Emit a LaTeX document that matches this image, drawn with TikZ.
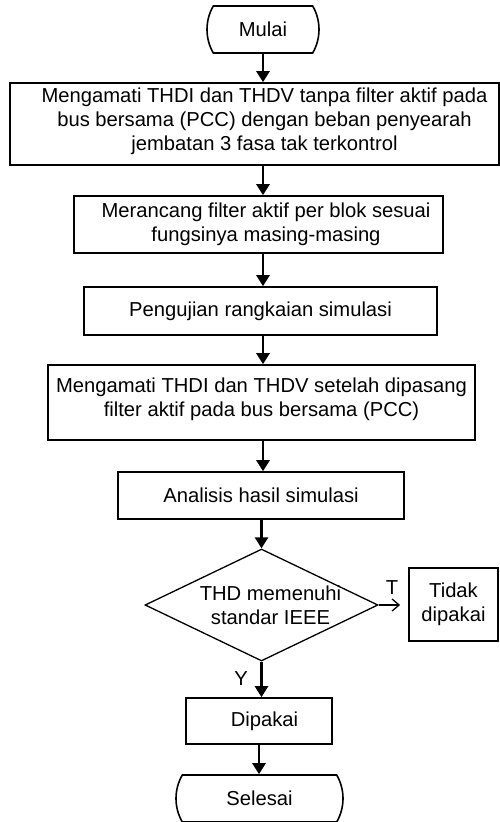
\documentclass[tikz,border=0pt]{standalone}
\usepackage{fontspec}
\setmainfont{Liberation Sans}
\usetikzlibrary{shapes.geometric,shapes.misc,arrows.meta}

% zero-width strut that pushes the text of a box up
\newcommand{\lowpad}[1]{\rule[-#1]{0pt}{#1}}
% pushes one line of text to the right
\newcommand{\rpad}[1]{\hspace*{#1}}

\tikzset{
  box/.style = {draw, line width=1.6pt, align=center, inner sep=0pt},
  term/.style = {draw, line width=1.6pt, rounded rectangle,
                 rounded rectangle arc length=60, inner sep=0pt},
  decide/.style = {draw, line width=1.3pt, diamond, aspect=2.08,
                   inner sep=-6pt, align=center},
  arr/.style = {line width=2.6pt, -{Triangle[length=11pt,width=13pt]}},
  barb/.style = {line width=1.3pt, -{Straight Barb[length=7pt,width=12pt]}},
}

\begin{document}
\begin{tikzpicture}[x=1pt, y=-1pt, font=\fontsize{20.2}{24}\selectfont]
\useasboundingbox (0,0) rectangle (500,822);

\node[term, minimum width=112pt, minimum height=47pt] (mulai) at (263,29.5) {Mulai};
\node[box, minimum width=489pt, minimum height=82pt] (amati1) at (254.5,124)
  {\rpad{20pt}Mengamati THDI dan THDV tanpa filter aktif pada\\
   \rpad{20pt}bus bersama (PCC) dengan beban penyearah\\
   \rpad{20pt}jembatan 3 fasa tak terkontrol\lowpad{10pt}};
\node[box, minimum width=369pt, minimum height=57pt] (rancang) at (258.5,224.5)
  {\rpad{15pt}Merancang filter aktif per blok sesuai\\
   \rpad{15pt}fungsinya masing-masing};
\node[box, minimum width=353pt, minimum height=48pt] (uji) at (260.5,311)
  {Pengujian rangkaian simulasi};
\node[box, minimum width=427pt, minimum height=75pt] (amati2) at (261.5,402.5)
  {Mengamati THDI dan THDV setelah dipasang\\
   filter aktif pada bus bersama (PCC)\lowpad{11pt}};
\node[box, minimum width=286pt, minimum height=47pt] (analisis) at (261,495.5)
  {Analisis hasil simulasi};
\node[decide, minimum width=233pt, minimum height=112pt] (thd) at (261.5,605)
  {\rpad{18pt}THD memenuhi\\ \rpad{18pt}standar IEEE};
\node[box, line width=1.8pt, minimum width=89pt, minimum height=73pt] (tidak) at (453.5,604.5)
  {Tidak\\ dipakai};
\node[box, minimum width=146pt, minimum height=46pt] (pakai) at (259,721)
  {\rpad{11pt}Dipakai};
\node[term, minimum width=167pt, minimum height=47pt] (selesai) at (259.5,798.5) {Selesai};

\node (labT) at (392,588) {T};
\node (labY) at (241,679) {Y};

\draw[arr] (mulai.south) -- (mulai.south |- amati1.north);
\draw[arr] (mulai.south |- amati1.south) -- (mulai.south |- rancang.north);
\draw[arr] (mulai.south |- rancang.south) -- (mulai.south |- uji.north);
\draw[arr] (mulai.south |- uji.south) -- (mulai.south |- amati2.north);
\draw[arr] (mulai.south |- amati2.south) -- (mulai.south |- analisis.north);
\draw[arr] (thd.north |- analisis.south) -- (thd.north);
\draw[barb, shorten >=8pt] (thd.east) -- (tidak.west |- thd.east);
\draw[arr] (thd.south) -- (thd.south |- pakai.north);
\draw[arr] (pakai.south) -- (pakai.south |- selesai.north);
\end{tikzpicture}
\end{document}
